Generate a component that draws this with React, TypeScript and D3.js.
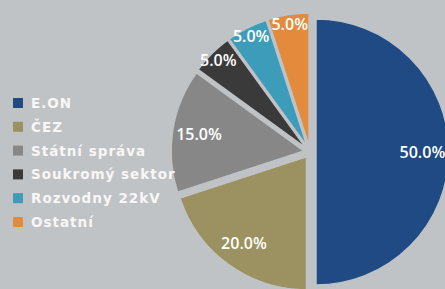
import React from 'react';
import * as d3 from 'd3';

const categories = ['E.ON', 'ČEZ', 'Státní správa', 'Soukromý sektor', 'Rozvodny 22kV', 'Ostatní'];
const shares = [50, 20, 15, 5, 5, 5];
const colors = ['#1f4a83', '#9b9161', '#878787', '#3a3a3a', '#3d9cba', '#e48a3c'];

const W = 445;
const H = 289;
const BG = '#c0c3c6';

const App: React.FC = () => {
  const cx = 310;
  const cy = 152;
  const R = 133;
  const explode = 6;

  const pie = d3.pie<number>().sort(null).value(d => d);
  const arcs = pie(shares);
  const arc = d3.arc<d3.PieArcDatum<number>>().innerRadius(0).outerRadius(R);

  const total = d3.sum(shares);

  // legend rows
  const legendY = d3.scaleLinear().domain([0, categories.length - 1]).range([103, 222]);

  return (
    <svg width={W} height={H} style={{ position: 'absolute', left: 0, top: 0, display: 'block' }}>
      <rect width={W} height={H} fill={BG} />

      {/* slices */}
      <g transform={`translate(${cx},${cy})`}>
        {arcs.map((a, i) => {
          const mid = (a.startAngle + a.endAngle) / 2;
          const dx = Math.sin(mid) * explode;
          const dy = -Math.cos(mid) * explode;
          return (
            <path
              key={i}
              d={arc(a) || ''}
              transform={`translate(${dx},${dy})`}
              fill={colors[i]}
              stroke={BG}
              strokeWidth={1.5}
            />
          );
        })}
        {arcs.map((a, i) => {
          const mid = (a.startAngle + a.endAngle) / 2;
          const frac = a.data / total;
          const lr = R * (frac < 0.1 ? 0.93 : 0.8) + explode;
          const x = Math.sin(mid) * lr;
          const y = -Math.cos(mid) * lr;
          return (
            <text
              key={'l' + i}
              x={x}
              y={y}
              textAnchor="middle"
              dominantBaseline="central"
              fill="#ffffff"
              fontFamily="'Open Sans', sans-serif"
              fontWeight={600}
              fontSize={16}
            >
              {d3.format('.1f')(a.data) + '%'}
            </text>
          );
        })}
      </g>

      {/* legend */}
      <g>
        {categories.map((c, i) => (
          <g key={c} transform={`translate(13,${legendY(i)})`}>
            <rect x={0} y={-5} width={10} height={10} fill={colors[i]} />
            <text
              x={18}
              y={0}
              dominantBaseline="central"
              fill="#f7f7f7"
              fontFamily="'DejaVu Sans', sans-serif"
              fontWeight="bold"
              fontSize={13.5}
              letterSpacing={1}
            >
              {c}
            </text>
          </g>
        ))}
      </g>
    </svg>
  );
};

export default App;
